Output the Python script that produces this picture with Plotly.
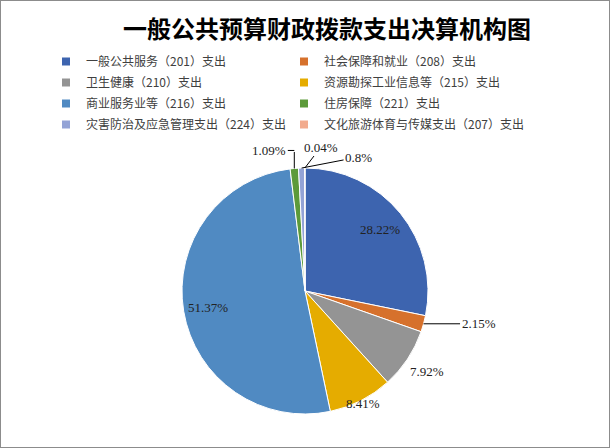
import math
import plotly.graph_objects as go

# 支出科目及占比(%)，按饼图顺时针顺序
labels = [
    '一般公共服务（201）支出',
    '社会保障和就业（208）支出',
    '卫生健康（210）支出',
    '资源勘探工业信息等（215）支出',
    '商业服务业等（216）支出',
    '住房保障（221）支出',
    '灾害防治及应急管理支出（224）支出',
    '文化旅游体育与传媒支出（207）支出',
]
pct = [28.22, 2.15, 7.92, 8.41, 51.37, 1.09, 0.8, 0.04]
pct_text = ['28.22%', '2.15%', '7.92%', '8.41%', '51.37%', '1.09%', '0.8%', '0.04%']

colors = ['#3D64AF', '#D6712C', '#949494', '#E5AC00',
          '#508AC2', '#5C9A3A', '#93A3D6', '#F2AB8E']

W, H = 610, 448
# pie placement (px)
pie_cx, pie_cy, pie_r = 305, 291, 123

# label style per slice: ('in', radius factor), ('arrow', ax, ay) or ('elbow', up, left)
label_style = [
    ('in', 0.79),
    ('arrow', 55, 0),
    ('in', 1.19),
    ('in', 1.03),
    ('in', 0.8),
    ('elbow', 18, -25),
    ('arrow', 57, -11),
    ('arrow', 16, -21),
]

fig = go.Figure()
fig.add_trace(go.Pie(
    labels=labels,
    values=pct,
    text=pct_text,
    textinfo='none',
    sort=False,
    direction='clockwise',
    rotation=0,
    showlegend=False,
    marker=dict(colors=colors, line=dict(color='white', width=1)),
    domain=dict(x=[(pie_cx - pie_r) / W, (pie_cx + pie_r) / W],
                y=[1 - (pie_cy + pie_r) / H, 1 - (pie_cy - pie_r) / H]),
    hoverinfo='label+text',
))

# legend in two columns (even index left, odd index right)
for i, (lab, c) in enumerate(zip(labels, colors)):
    fig.add_trace(go.Scatter(
        x=[None], y=[None], mode='markers', name=lab,
        marker=dict(symbol='square', size=8, color=c),
        legend='legend' if i % 2 == 0 else 'legend2',
        legendgroup=lab, hoverinfo='skip',
    ))

# percentage labels placed from the cumulative slice angles
lab_font = dict(family='Liberation Serif, DejaVu Serif, serif', size=13, color='#222222')
line_kw = dict(showarrow=True, arrowhead=0, arrowwidth=1, arrowcolor='black',
               standoff=0, startstandoff=0)
total = sum(pct)
cum = 0
annos = []
for v, t, st in zip(pct, pct_text, label_style):
    mid = (cum + v / 2) / total * 2 * math.pi
    cum += v
    sx, sy = math.sin(mid), math.cos(mid)
    ex, ey = pie_cx + pie_r * sx, pie_cy - pie_r * sy   # point on the rim
    if st[0] == 'in':
        k = st[1]
        annos.append(dict(x=(pie_cx + k * pie_r * sx) / W, y=1 - (pie_cy - k * pie_r * sy) / H,
                          xref='paper', yref='paper', text=t, showarrow=False,
                          xanchor='center', yanchor='middle', font=lab_font))
    elif st[0] == 'arrow':
        annos.append(dict(x=ex / W, y=1 - ey / H, xref='paper', yref='paper', text=t,
                          ax=st[1], ay=st[2], font=lab_font, **line_kw))
    else:
        up, left = st[1], st[2]
        annos.append(dict(x=ex / W, y=1 - ey / H, xref='paper', yref='paper', text='',
                          ax=0, ay=-up, **line_kw))
        annos.append(dict(x=ex / W, y=1 - (ey - up) / H, xref='paper', yref='paper', text=t,
                          ax=left, ay=0, font=lab_font, **line_kw))

leg_common = dict(
    orientation='v', xanchor='left', yanchor='top',
    y=1 - 47 / H,
    font=dict(family='Noto Sans CJK SC', size=12, color='#404040'),
    tracegroupgap=2,
    bgcolor='rgba(0,0,0,0)',
)

fig.update_layout(
    width=W, height=H,
    margin=dict(l=0, r=0, t=0, b=0),
    paper_bgcolor='white',
    plot_bgcolor='white',
    font=dict(family='Noto Sans CJK SC', color='#404040'),
    title=dict(
        text='<b>一般公共预算财政拨款支出决算机构图</b>',
        x=0.536, xanchor='center', y=1 - 30 / H, yanchor='middle',
        font=dict(family='Noto Sans CJK SC', size=24, color='black'),
    ),
    xaxis=dict(visible=False),
    yaxis=dict(visible=False),
    legend=dict(x=46 / W, **leg_common),
    legend2=dict(x=284 / W, **leg_common),
    annotations=annos,
    shapes=[dict(type='rect', xref='paper', yref='paper', x0=0, y0=0, x1=1, y1=1,
                 line=dict(color='#8c8c8c', width=2))],
)

fig.write_html('out.html', config={'displayModeBar': False},
               post_script="document.body.style.margin='0';")
